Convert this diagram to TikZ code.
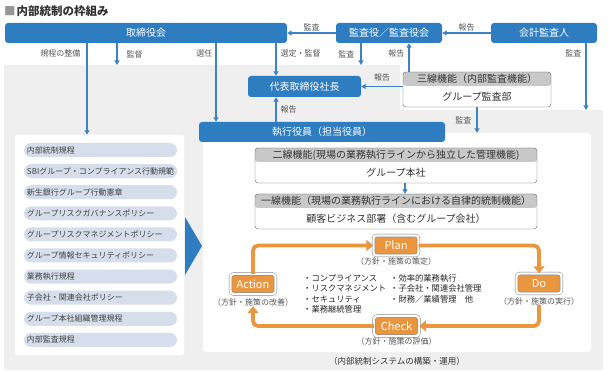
\documentclass[tikz,border=0pt]{standalone}
\usepackage{fontspec}
\setmainfont{Noto Sans CJK JP}
\usepackage{tikz}
\usetikzlibrary{arrows.meta, positioning}
\definecolor{boxblue}{RGB}{46,125,192}
\definecolor{lineblue}{RGB}{60,130,196}
\definecolor{bggray}{RGB}{239,239,239}
\definecolor{pillblue}{RGB}{214,222,236}
\definecolor{hdrgray}{RGB}{200,200,200}
\definecolor{edgegray}{RGB}{90,90,90}
\definecolor{textgray}{RGB}{85,85,85}
\definecolor{pdcaorange}{RGB}{233,150,62}
\definecolor{titlegray}{RGB}{150,150,150}

\begin{document}
\begin{tikzpicture}[
  x=1pt, y=-1pt,
  bluebox/.style={rectangle, rounded corners=3pt, fill=boxblue, text=white,
                  font=\fontsize{10}{12}\selectfont, minimum height=20pt, inner sep=0pt},
  tierbox/.style={rectangle, draw=edgegray, rounded corners=3pt, fill=white,
                  minimum height=35pt, inner sep=0pt,
                  path picture={\fill[hdrgray] (path picture bounding box.north west)
                    rectangle ([yshift=-14pt]path picture bounding box.north east);}},
  tiertext/.style={font=\fontsize{10}{12}\selectfont, text=black!80, inner sep=0pt},
  pill/.style={rectangle, rounded corners=7pt, fill=pillblue, text=black!75,
               font=\fontsize{8}{10}\selectfont, text width=147pt, align=left,
               minimum height=14pt, inner xsep=3pt, inner ysep=0pt},
  pdca/.style={rectangle, fill=pdcaorange, draw=edgegray!80, double=white,
               double distance=2.4pt, rounded corners=3pt, text=white,
               font=\fontsize{11}{12}\selectfont, minimum width=45pt,
               minimum height=20pt, inner xsep=4pt, inner ysep=0pt},
  sub/.style={font=\fontsize{8}{9}\selectfont, text=textgray, inner sep=0pt},
  lbl/.style={font=\fontsize{8}{10}\selectfont, text=textgray, inner sep=1pt},
  items/.style={anchor=north west, align=left, inner sep=0pt, text=black!85,
                font=\fontsize{8.3}{10.6}\selectfont},
  arrow/.style={draw=lineblue, line width=1.1pt, -{Triangle[length=4.5pt, width=5pt]}},
  cyclearrow/.style={draw=pdcaorange, line width=3.8pt, rounded corners=5pt,
                     -{Triangle[length=7pt, width=11pt]}},
  node distance=6.7pt
]
\useasboundingbox (0,0) rectangle (608,374);
\fill[bggray] (4,65) -- (400,65) -- (400,110) -- (603,110) -- (603,370) -- (4,370) -- cycle;
\coordinate (bgtop) at (0,65);
\coordinate (bgstep) at (0,110);

\node[anchor=west, inner sep=0pt, text=black!80,
      font=\fontsize{11.5}{13}\selectfont\bfseries] (title) at (4,11)
  {{\color{titlegray}■}\hspace{1pt}内部統制の枠組み};

\node[bluebox, minimum width=282pt] (board) at (146,33) {取締役会};
\node[bluebox, minimum width=106pt] (audit) at (389,33) {監査役／監査役会};
\node[bluebox, minimum width=106pt] (acct) at (544,33) {会計監査人};

\node[fill=white, rounded corners=2pt, minimum width=169pt, minimum height=220pt] (rules) at (99.5,245) {};
\node[fill=white, rounded corners=3pt, minimum width=388pt, minimum height=219pt] (ctrl) at (397,242.5) {};

\node[bluebox, minimum width=113pt, minimum height=21pt] (ceo) at (304.5,86.5) {代表取締役社長};
\node[bluebox, minimum width=246pt] (exec) at (322,132) {執行役員（担当役員）};

\node[tierbox, minimum width=148pt] (third) at (477,89.5) {};
\node[tiertext] (thirdh) at ([yshift=-7pt]third.north) {三線機能（内部監査機能）};
\node[tiertext] (thirdb) at ([yshift=-24.5pt]third.north) {グループ監査部};
\node[tierbox, minimum width=282pt] (second) at (396,165.5) {};
\node[tiertext] (secondh) at ([yshift=-7pt]second.north) {二線機能(現場の業務執行ラインから独立した管理機能)};
\node[tiertext] (secondb) at ([yshift=-24.5pt]second.north) {グループ本社};
\node[tierbox, minimum width=282pt] (first) at (396,211.5) {};
\node[tiertext] (firsth) at ([yshift=-7pt]first.north) {一線機能（現場の業務執行ラインにおける自律的統制機能）};
\node[tiertext] (firstb) at ([yshift=-24.5pt]first.north) {顧客ビジネス部署（含むグループ会社）};

\node[pill] (r1) at (100.5,150) {内部統制規程};
\node[pill, below=of r1] (r2) {SBIグループ・コンプライアンス行動規範};
\node[pill, below=of r2] (r3) {新生銀行グループ行動憲章};
\node[pill, below=of r3] (r4) {グループリスクガバナンスポリシー};
\node[pill, below=of r4] (r5) {グループリスクマネジメントポリシー};
\node[pill, below=of r5] (r6) {グループ情報セキュリティポリシー};
\node[pill, below=of r6] (r7) {業務執行規程};
\node[pill, below=of r7] (r8) {子会社・関連会社ポリシー};
\node[pill, below=of r8] (r9) {グループ本社組織管理規程};
\node[pill, below=of r9] (r10) {内部監査規程};

\fill[boxblue] (185,217) -- (202,246) -- (185,275) -- cycle;

\draw[arrow] ([xshift=-59pt]board.south) -- ([xshift=-59pt]board.south |- rules.north)
  node[lbl, pos=0.11, left=5pt] (l1) {規程の整備};
\draw[arrow] ([xshift=-29pt]board.south) -- ([xshift=-29pt]board.south |- bgtop)
  node[lbl, midway, right=8pt] (l2) {監督};
\draw[arrow] ([xshift=70pt]board.south) -- ([xshift=70pt]board.south |- exec.north)
  node[lbl, pos=0.13, left=2pt] (l3) {選任};
\draw[arrow] ([xshift=130pt]board.south) -- ([xshift=130pt]board.south |- ceo.north)
  node[lbl, pos=0.3, right=3pt] (l4) {選定・監督};
\draw[arrow] (audit) -- (board) node[lbl, midway, above] (l5) {監査};
\draw[arrow] (acct) -- (audit) node[lbl, midway, above] (l6) {報告};
\draw[arrow] ([xshift=-28pt]audit.south) -- ([xshift=-28pt]audit.south |- bgtop)
  node[lbl, midway, left=5pt] (l7) {監査};
\draw[arrow] ([xshift=-68pt]third.north) -- ([xshift=-68pt]third.north |- audit.south)
  node[lbl, pos=0.65, left=3pt] (l8) {報告};
\draw[arrow] (third.west |- ceo.east) -- (ceo.east) node[lbl, midway, above=4pt] (l9) {報告};
\draw[arrow] ([xshift=42pt]acct.south) -- ([xshift=42pt]acct.south |- bgstep)
  node[lbl, pos=0.15, left=3pt] (l10) {監査};
\draw[arrow] ([xshift=-46pt]exec.north) -- ([xshift=-46pt]exec.north |- ceo.south)
  node[lbl, midway, right=3pt] (l11) {報告};
\draw[arrow] (third.south) -- (third.south |- ctrl.north) node[lbl, midway, left=4pt] (l12) {監査};
\draw[arrow] ([xshift=9pt]second.south) -- ([xshift=9pt]first.north);

\node[pdca] (plan) at (396,245.5) {Plan};
\node[pdca] (do) at (539,283.5) {Do};
\node[pdca] (check) at (396.5,326) {Check};
\node[pdca] (act) at (253,284) {Action};
\node[sub, below=2pt of plan] (planl) {（方針・施策の策定）};
\node[sub, below=3.5pt of do] (dol) {（方針・施策の実行）};
\node[sub, below=1.5pt of check] (checkl) {（方針・施策の評価）};
\node[sub, below=4pt of act] (actl) {（方針・施策の改善）};
\draw[cyclearrow] (act.north) |- (plan.west);
\draw[cyclearrow] (plan.east) -| (do.north);
\draw[cyclearrow] (dol.south) |- (check.east);
\draw[cyclearrow] (check.west) -| (actl.south);

\node[items] (items1) at (303,274) {・コンプライアンス\\・リスクマネジメント\\・セキュリティ\\・業務継続管理};
\node[items] (items2) at (390,274) {・効率的業務執行\\・子会社・関連会社管理\\・財務／業績管理　他};

\node[font=\fontsize{8.5}{10}\selectfont, text=black!80, inner sep=0pt, below=4.5pt of ctrl] (caption)
  {（内部統制システムの構築・運用）};
\end{tikzpicture}
\end{document}
